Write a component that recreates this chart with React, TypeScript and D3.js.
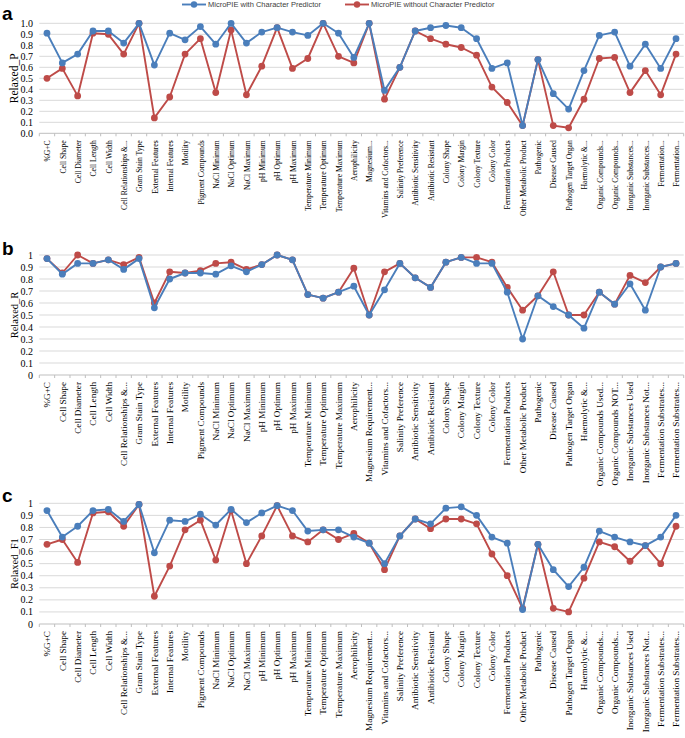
import React from "react";
import * as d3 from "d3";

const categoriesA = ["%G+C","Cell Shape","Cell Diameter","Cell Length","Cell Width","Cell Relationships &...","Gram Stain Type","External Features","Internal Features","Motility","Pigment Compounds","NaCl Minimum","NaCl Optimum","NaCl Maximum","pH Minimum","pH Optimum","pH Maximum","Temperature Minimum","Temperature Optimum","Temperature Maximum","Aerophilicity","Magnesium...","Vitamins and Cofactors...","Salinity Preference","Antibiotic Sensitivity","Antibiotic Resistant","Colony Shape","Colony Margin","Colony Texture","Colony Color","Fermentation Products","Other Metabolic Product","Pathogenic","Disease Caused","Pathogen Target Organ","Haemolytic &...","Organic Compounds...","Organic Compounds...","Inorganic Substances...","Inorganic Substances...","Fermentation...","Fermentation..."];
const categoriesB = ["%G+C","Cell Shape","Cell Diameter","Cell Length","Cell Width","Cell Relationships &...","Gram Stain Type","External Features","Internal Features","Motility","Pigment Compounds","NaCl Minimum","NaCl Optimum","NaCl Maximum","pH Minimum","pH Optimum","pH Maximum","Temperature Minimum","Temperature Optimum","Temperature Maximum","Aerophilicity","Magnesium Requirement...","Vitamins and Cofactors...","Salinity Preference","Antibiotic Sensitivity","Antibiotic Resistant","Colony Shape","Colony Margin","Colony Texture","Colony Color","Fermentation Products","Other Metabolic Product","Pathogenic","Disease Caused","Pathogen Target Organ","Haemolytic &...","Organic Compounds Used...","Organic Compounds NOT...","Inorganic Substances Used","Inorganic Substances Not...","Fermentation Substrates...","Fermentation Substrates..."];
const categoriesC = ["%G+C","Cell Shape","Cell Diameter","Cell Length","Cell Width","Cell Relationships &...","Gram Stain Type","External Features","Internal Features","Motility","Pigment Compounds","NaCl Minimum","NaCl Optimum","NaCl Maximum","pH Minimum","pH Optimum","pH Maximum","Temperature Minimum","Temperature Optimum","Temperature Maximum","Aerophilicity","Magnesium Requirement...","Vitamins and Cofactors...","Salinity Preference","Antibiotic Sensitivity","Antibiotic Resistant","Colony Shape","Colony Margin","Colony Texture","Colony Color","Fermentation Products","Other Metabolic Product","Pathogenic","Disease Caused","Pathogen Target Organ","Haemolytic &...","Organic Compounds...","Organic Compounds...","Inorganic Substances Used","Inorganic Substances Not...","Fermentation Substrates...","Fermentation Substrates..."];

const seriesNames = ["MicroPIE with Character Predictor", "MicroPIE without Character Predictor"];

const precisionWith = [0.91,0.64,0.72,0.93,0.93,0.82,1.0,0.62,0.91,0.85,0.97,0.81,1.0,0.82,0.92,0.96,0.92,0.89,1.0,0.91,0.69,1.0,0.39,0.60,0.93,0.96,0.98,0.96,0.86,0.59,0.64,0.07,0.67,0.36,0.22,0.57,0.89,0.92,0.61,0.81,0.59,0.86];
const precisionWithout = [0.50,0.59,0.34,0.91,0.90,0.72,1.0,0.14,0.33,0.72,0.86,0.37,0.94,0.35,0.61,0.96,0.59,0.68,1.0,0.70,0.64,1.0,0.31,0.60,0.93,0.86,0.81,0.78,0.71,0.42,0.28,0.07,0.67,0.07,0.05,0.31,0.68,0.69,0.37,0.57,0.35,0.72];

const recallWith = [0.97,0.84,0.93,0.93,0.96,0.88,0.97,0.56,0.80,0.85,0.85,0.84,0.91,0.86,0.92,1.0,0.96,0.67,0.64,0.69,0.74,0.50,0.71,0.93,0.81,0.73,0.94,0.98,0.93,0.93,0.69,0.30,0.66,0.57,0.50,0.39,0.69,0.59,0.76,0.54,0.90,0.93];
const recallWithout = [0.97,0.85,1.0,0.93,0.96,0.92,0.98,0.60,0.86,0.85,0.87,0.93,0.94,0.88,0.92,1.0,0.96,0.67,0.64,0.69,0.89,0.50,0.86,0.93,0.81,0.73,0.94,0.98,0.98,0.94,0.73,0.54,0.66,0.86,0.50,0.50,0.69,0.59,0.83,0.77,0.90,0.93];

const f1With = [0.94,0.72,0.81,0.94,0.95,0.85,0.99,0.59,0.86,0.85,0.91,0.82,0.95,0.84,0.92,0.98,0.94,0.77,0.78,0.78,0.72,0.67,0.50,0.73,0.87,0.83,0.96,0.97,0.90,0.72,0.67,0.12,0.66,0.45,0.31,0.47,0.77,0.72,0.68,0.65,0.72,0.90];
const f1Without = [0.66,0.70,0.51,0.92,0.93,0.81,0.99,0.23,0.48,0.78,0.86,0.53,0.94,0.50,0.73,0.98,0.73,0.68,0.78,0.70,0.75,0.67,0.45,0.73,0.87,0.79,0.87,0.87,0.83,0.58,0.40,0.13,0.66,0.13,0.10,0.38,0.68,0.64,0.52,0.65,0.50,0.81];

const BLUE = "#4a7ebb";
const RED = "#be4b48";

type PanelCfg = {
  letter: string;
  title: string;
  labels: string[];
  withVals: number[];
  withoutVals: number[];
  top: number;
  bottom: number;
  fmt: (d: number) => string;
  labelScale: number;
  letterY: number;
  titleSize: number;
};

const fmtFixed = (d: number) => d.toFixed(1);
const fmtShort = (d: number) => String(+d.toFixed(1));

const panels: PanelCfg[] = [
  { letter: "a", title: "Relaxed_P", labels: categoriesA, withVals: precisionWith, withoutVals: precisionWithout, top: 23.3, bottom: 133.3, fmt: fmtFixed, labelScale: 0.83, letterY: 20, titleSize: 11.5 },
  { letter: "b", title: "Relaxed_R", labels: categoriesB, withVals: recallWith, withoutVals: recallWithout, top: 255, bottom: 375, fmt: fmtShort, labelScale: 1, letterY: 255, titleSize: 10.5 },
  { letter: "c", title: "Relaxed_F1", labels: categoriesC, withVals: f1With, withoutVals: f1Without, top: 503.3, bottom: 624, fmt: fmtShort, labelScale: 1, letterY: 502, titleSize: 10.5 },
];

const X0 = 39.3;
const X1 = 683.7;

function Panel({ cfg }: { cfg: PanelCfg }) {
  const idx = cfg.labels.map((_, i) => String(i));
  const x = d3.scaleBand<string>().domain(idx).range([X0, X1]).padding(0);
  const cx = (i: number) => (x(String(i)) as number) + x.bandwidth() / 2;
  const y = d3.scaleLinear().domain([0, 1]).range([cfg.bottom, cfg.top]);
  const ticks = d3.range(0, 11).map((k) => k / 10);
  const line = d3.line<number>().x((_, i) => cx(i)).y((d) => y(d));
  const series = [
    { vals: cfg.withoutVals, color: RED },
    { vals: cfg.withVals, color: BLUE },
  ];
  const labelTop = cfg.bottom + 7;
  return (
    <g>
      <text x={2} y={cfg.letterY} fontFamily="Liberation Sans, Arial, sans-serif" fontWeight="bold" fontSize={19}>{cfg.letter}</text>
      {ticks.map((t) => (
        <g key={t}>
          <line x1={X0} x2={X1} y1={y(t)} y2={y(t)} stroke={t === 0 ? "#bfbfbf" : "#d9d9d9"} strokeWidth={1} />
          <text x={33} y={y(t)} dy="0.35em" textAnchor="end" fontFamily="Liberation Serif, Times New Roman, serif" fontSize={10} fill="#000">{cfg.fmt(t)}</text>
        </g>
      ))}
      {d3.range(0, cfg.labels.length + 1).map((i) => {
        const xx = i < cfg.labels.length ? (x(String(i)) as number) : X1;
        return <line key={"t" + i} x1={xx} x2={xx} y1={cfg.bottom} y2={cfg.bottom + 3} stroke="#bfbfbf" strokeWidth={1} />;
      })}
      <text transform={`translate(18,${(cfg.top + cfg.bottom) / 2}) rotate(-90)`} textAnchor="middle" fontFamily="Liberation Serif, Times New Roman, serif" fontSize={cfg.titleSize}>{cfg.title}</text>
      {cfg.labels.map((lab, i) => (
        <text key={"l" + i} transform={`translate(${cx(i) + 3.2},${labelTop}) scale(1,${cfg.labelScale}) rotate(-90)`} textAnchor="end" fontFamily="Liberation Serif, Times New Roman, serif" fontSize={9.2} fill="#000">{lab}</text>
      ))}
      {series.map((s, k) => (
        <g key={"s" + k}>
          <path d={line(s.vals) as string} fill="none" stroke={s.color} strokeWidth={1.9} strokeLinejoin="round" />
          {s.vals.map((v, i) => (
            <circle key={i} cx={cx(i)} cy={y(v)} r={3.4} fill={s.color} />
          ))}
        </g>
      ))}
    </g>
  );
}

export default function App() {
  const legend = [
    { name: seriesNames[0], color: BLUE, x0: 182, x1: 206, tx: 208 },
    { name: seriesNames[1], color: RED, x0: 345, x1: 369, tx: 371 },
  ];
  return (
    <svg width={685} height={738} style={{ position: "absolute", left: 0, top: 0, background: "#fff" }}>
      <rect width={685} height={738} fill="#fff" />
      {legend.map((l) => (
        <g key={l.name}>
          <line x1={l.x0} x2={l.x1} y1={4.5} y2={4.5} stroke={l.color} strokeWidth={1.9} />
          <circle cx={(l.x0 + l.x1) / 2} cy={4.5} r={3.2} fill={l.color} />
          <text x={l.tx} y={4.5} dy="0.35em" fontFamily="Liberation Sans, Arial, sans-serif" fontSize={7.5} fill="#404040">{l.name}</text>
        </g>
      ))}
      {panels.map((p) => <Panel key={p.letter} cfg={p} />)}
    </svg>
  );
}
